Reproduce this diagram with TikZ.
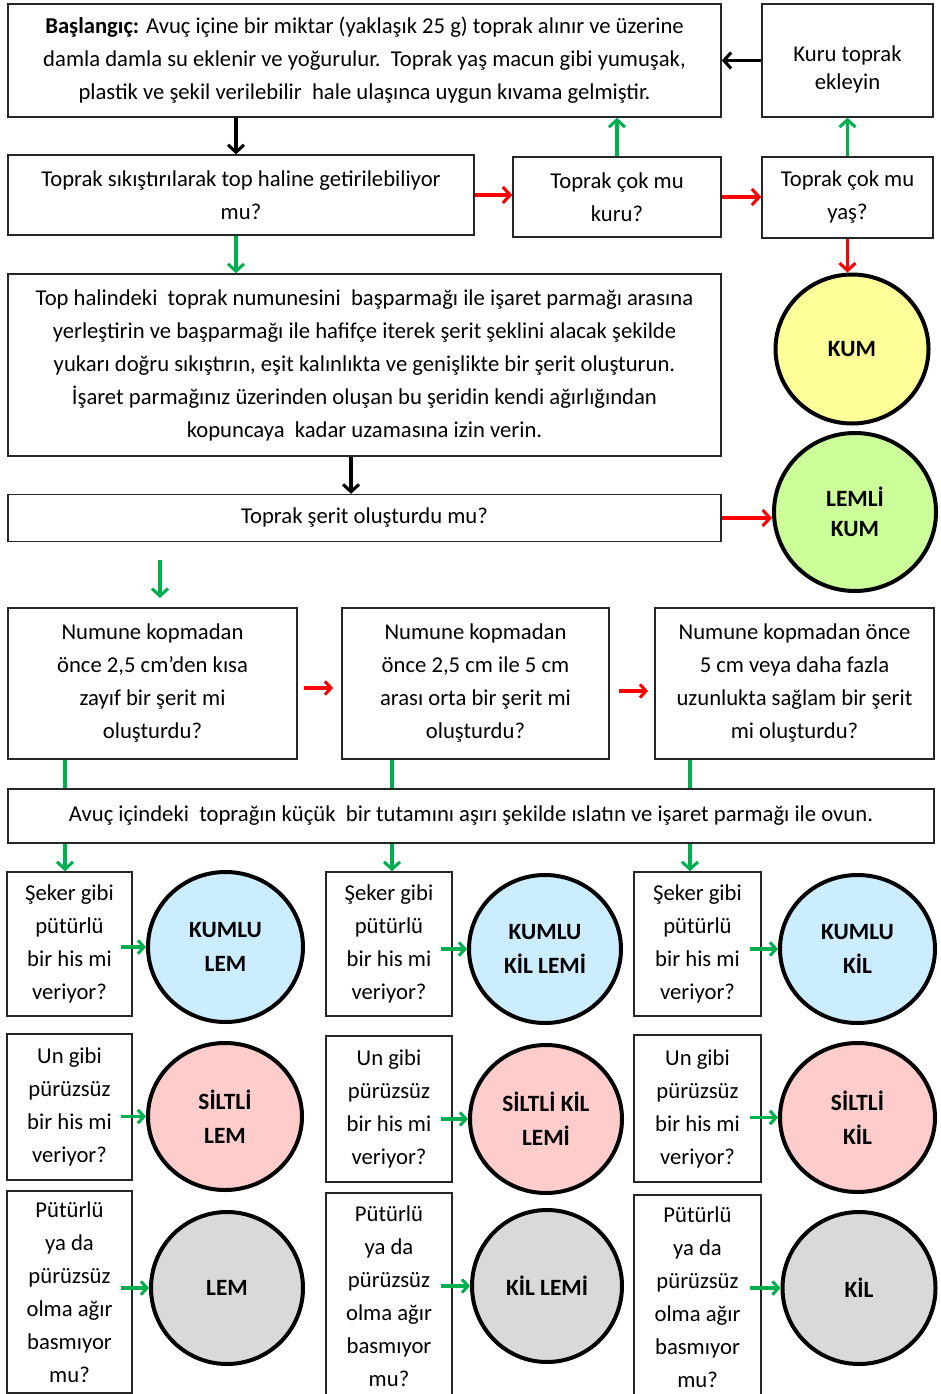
\documentclass[tikz,border=0pt]{standalone}
\usepackage{fontspec}
\setmainfont{Carlito}
\usetikzlibrary{arrows.meta,calc,shapes.geometric}
\definecolor{ogreen}{HTML}{00B050}
\definecolor{ored}{HTML}{FF0000}
\definecolor{cyel}{HTML}{FFFF99}
\definecolor{clgr}{HTML}{CCFF99}
\definecolor{cblu}{HTML}{CCECFF}
\definecolor{cpnk}{HTML}{FFCCCC}
\definecolor{cgry}{HTML}{D9D9D9}
\newcommand\mainfs{\fontsize{17}{24.75}\selectfont}
\newcommand\kurufs{\fontsize{17}{21}\selectfont}
\newcommand\circfs{\fontsize{17.5}{25.5}\selectfont\bfseries}
\begin{document}
\begin{tikzpicture}[x=0.75pt,y=-0.75pt,
  box/.style={draw=black!85, line width=1.1pt, fill=white, align=center, inner sep=0pt, font=\mainfs},
  sz/.style 2 args={minimum width=#1*0.75pt, minimum height=#2*0.75pt},
  circ/.style={ellipse, draw=black, line width=3pt, align=center, inner sep=0pt, font=\circfs},
  arr/.style={line width=2.3pt, -{Straight Barb[length=5.5pt,width=12pt]}},
  sarr/.style={line width=2.3pt, -{Straight Barb[length=4.5pt,width=10pt]}},
  garr/.style={arr, draw=ogreen},
  sgarr/.style={sarr, draw=ogreen},
  rarr/.style={arr, draw=ored},
  srarr/.style={sarr, draw=ored},
  barr/.style={arr, draw=black},
  gline/.style={line width=2.3pt, draw=ogreen}]
\clip (0,0) rectangle (941,1394);
\fill[white] (0,0) rectangle (941,1394);

% top part
\node[box, sz={713}{113}] (start) at (364.5,60.5) {\textbf{Başlangıç:} Avuç içine bir miktar (yaklaşık 25 g) toprak alınır ve üzerine\\ damla damla su eklenir ve yoğurulur.\ \ Toprak yaş macun gibi yumuşak,\\ plastik ve şekil verilebilir\ \ hale ulaşınca uygun kıvama gelmiştir.};
\node[box, sz={171}{113}, font=\kurufs] (kuru) at (847.5,60.5) {\raisebox{-7pt}[\height][\depth]{\begin{tabular}{@{}c@{}}Kuru toprak\\ ekleyin\end{tabular}}};
\node[box, sz={466}{80}] (q1) at (241,195) {Toprak sıkıştırılarak top haline getirilebiliyor\\ mu?};
\node[box, sz={208}{80}] (dry) at (617,197) {Toprak çok mu\\ kuru?};
\node[box, sz={171}{81}] (wet) at (847.5,197.5) {Toprak çok mu\\ yaş?};
\node[circ, fill=cyel, sz={153}{149}] (kum) at (852,349) {KUM};
\node[box, sz={713}{182}] (big) at (364.5,365) {Top halindeki\ \ toprak numunesini\ \ başparmağı ile işaret parmağı arasına\\ yerleştirin ve başparmağı ile hafifçe iterek şerit şeklini alacak şekilde\\ yukarı doğru sıkıştırın, eşit kalınlıkta ve genişlikte bir şerit oluşturun.\\ İşaret parmağınız üzerinden oluşan bu şeridin kendi ağırlığından\\ kopuncaya\ \ kadar uzamasına izin verin.};
\node[box, sz={713}{47}] (strip) at (364.5,518) {Toprak şerit oluşturdu mu?};
\node[circ, fill=clgr, sz={162}{158}, font=\fontsize{17.5}{22.5}\selectfont\bfseries] (lemli) at (855,512) {LEMLİ\\ KUM};

% ribbon boxes
\node[box, sz={289}{151}] (ra) at (152.5,683.5) {Numune kopmadan\\ önce 2,5 cm’den kısa\\ zayıf bir şerit mi\\ oluşturdu?};
\node[box, sz={267}{151}] (rb) at (475.5,683.5) {Numune kopmadan\\ önce 2,5 cm ile 5 cm\\ arası orta bir şerit mi\\ oluşturdu?};
\node[box, sz={279}{151}] (rc) at (794.5,683.5) {Numune kopmadan önce\\ 5 cm veya daha fazla\\ uzunlukta sağlam bir şerit\\ mi oluşturdu?};
\node[box, sz={926}{54}] (wide) at (471,816) {Avuç içindeki\ \ toprağın küçük\ \ bir tutamını aşırı şekilde ıslatın ve işaret parmağı ile ovun.};

% grid row 1
\node[box, sz={125}{144}] (g11) at (69.5,944) {Şeker gibi\\ pütürlü\\ bir his mi\\ veriyor?};
\node[box, sz={126}{144}] (g21) at (389,944) {Şeker gibi\\ pütürlü\\ bir his mi\\ veriyor?};
\node[box, sz={127}{144}] (g31) at (697.5,944) {Şeker gibi\\ pütürlü\\ bir his mi\\ veriyor?};
\node[circ, fill=cblu, sz={155}{150}] (c11) at (225.5,947) {KUMLU\\ LEM};
\node[circ, fill=cblu, sz={152}{148}] (c21) at (545,949) {KUMLU\\ KİL LEMİ};
\node[circ, fill=cblu, sz={155}{148}] (c31) at (857.5,949) {KUMLU\\ KİL};
% grid row 2
\node[box, sz={125}{146}] (g12) at (69.5,1107) {Un gibi\\ pürüzsüz\\ bir his mi\\ veriyor?};
\node[box, sz={126}{146}] (g22) at (389,1109) {Un gibi\\ pürüzsüz\\ bir his mi\\ veriyor?};
\node[box, sz={127}{147}] (g32) at (697.5,1108.5) {Un gibi\\ pürüzsüz\\ bir his mi\\ veriyor?};
\node[circ, fill=cpnk, sz={154}{147}] (c12) at (225,1116.5) {SİLTLİ\\ LEM};
\node[circ, fill=cpnk, sz={152}{148}] (c22) at (546,1119) {SİLTLİ KİL\\ LEMİ};
\node[circ, fill=cpnk, sz={155}{149}] (c32) at (857.5,1117.5) {SİLTLİ\\ KİL};
% grid row 3
\node[box, sz={125}{202}] (g13) at (69.5,1292) {Pütürlü\\ ya da\\ pürüzsüz\\ olma ağır\\ basmıyor\\ mu?};
\node[box, sz={126}{207}] (g23) at (389,1296.5) {Pütürlü\\ ya da\\ pürüzsüz\\ olma ağır\\ basmıyor\\ mu?};
\node[box, sz={127}{205}] (g33) at (697.5,1297.5) {Pütürlü\\ ya da\\ pürüzsüz\\ olma ağır\\ basmıyor\\ mu?};
\node[circ, fill=cgry, sz={152}{152}] (c13) at (227,1288) {LEM};
\node[circ, fill=cgry, sz={150}{152}] (c23) at (547,1286) {KİL LEMİ};
\node[circ, fill=cgry, sz={153}{152}] (c33) at (859,1288) {KİL};

% helper coordinates
\coordinate (xs) at (236,0);
\coordinate (xb) at (351,0);
\coordinate (xa) at (65,0);
\coordinate (xm) at (392,0);
\coordinate (xc) at (690,0);
\coordinate (fa1) at (160,560);
\coordinate (fa2) at (160,598);
\coordinate (ra1) at (304,688);
\coordinate (ra2) at (333,688);
\coordinate (rb1) at (619,691);
\coordinate (rb2) at (648,691);

% connectors top
\draw[barr] (kuru.west) -- (kuru.west -| start.east);
\draw[barr] (xs |- start.south) -- (xs |- q1.north);
\draw[rarr] (q1.east) -- (q1.east -| dry.west);
\draw[garr] (dry.north) -- (dry.north |- start.south);
\draw[rarr] (dry.east) -- (dry.east -| wet.west);
\draw[garr] (wet.north) -- (wet.north |- kuru.south);
\draw[rarr] (wet.south) -- (wet.south |- kum.north);
\draw[garr] (xs |- q1.south) -- (xs |- big.north);
\draw[barr] (xb |- big.south) -- (xb |- strip.north);
\draw[rarr] (strip.east) -- (strip.east -| lemli.west);
\draw[garr] (fa1) -- (fa2);
\draw[srarr] (ra1) -- (ra2);
\draw[srarr] (rb1) -- (rb2);

% green lines
\draw[gline] (xa |- ra.south) -- (xa |- wide.north);
\draw[gline] (xm |- rb.south) -- (xm |- wide.north);
\draw[gline] (xc |- rc.south) -- (xc |- wide.north);
\draw[garr] (xa |- wide.south) -- (xa |- g11.north);
\draw[garr] (xm |- wide.south) -- (xm |- g21.north);
\draw[garr] (xc |- wide.south) -- (xc |- g31.north);

% box to circle arrows
\foreach \r in {1,2,3}{
  \draw[sgarr] ($(g1\r.east |- c1\r.west)+(-9pt,0)$) -- (c1\r.west);
  \draw[sgarr] ($(g2\r.east |- c2\r.west)+(-9pt,0)$) -- (c2\r.west);
  \draw[sgarr] ($(g3\r.east |- c3\r.west)+(-9pt,0)$) -- (c3\r.west);
}
\end{tikzpicture}
\end{document}
